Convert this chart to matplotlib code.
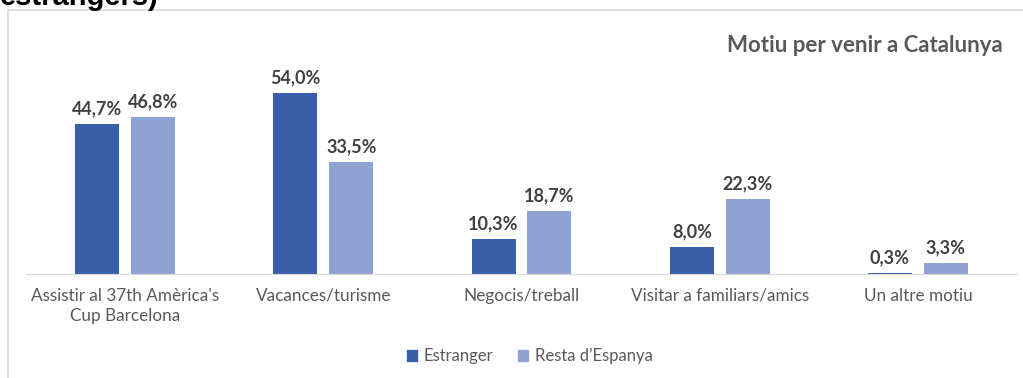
import matplotlib
matplotlib.use("Agg")
import matplotlib.pyplot as plt
import numpy as np
from matplotlib.patches import Rectangle, Patch

categories = ["Assistir al 37th Amèrica's\nCup Barcelona", "Vacances/turisme",
              "Negocis/treball", "Visitar a familiars/amics", "Un altre motiu"]
estranger = [44.7, 54.0, 10.3, 8.0, 0.3]
resta = [46.8, 33.5, 18.7, 22.3, 3.3]
series_names = ["Estranger", "Resta d\u2019Espanya"]

c_est = "#3A5FAA"
c_res = "#8EA2D4"

plt.rcParams['font.family'] = ['Lato', 'DejaVu Sans']

W, H = 1023, 378
fig = plt.figure(figsize=(W / 100, H / 100), dpi=100)

# frame of the chart box (cut at right and bottom)
fig.patches.append(Rectangle((8 / W, -0.1), 1.2, 1 - 10 / H + 0.1, transform=fig.transFigure,
                             fill=False, edgecolor="#D9D9D9", lw=1.2))

# cropped title from above
fig.text(0.0, 1 - 5 / H, "estrangers)", fontsize=21, fontweight="bold",
         family="Liberation Sans", va="baseline", ha="left", color="black")

ax = fig.add_axes([26 / W, 104 / H, 991 / W, 201 / H])
x = np.arange(len(categories))
w = 0.222
gap = 0.06
b1 = ax.bar(x - (w + gap) / 2, estranger, w, color=c_est, label=series_names[0])
b2 = ax.bar(x + (w + gap) / 2, resta, w, color=c_res, label=series_names[1])

for bars, vals in ((b1, estranger), (b2, resta)):
    for b, v in zip(bars, vals):
        ax.annotate(f"{v:.1f}%".replace(".", ","), (b.get_x() + b.get_width() / 2, v),
                    xytext=(0, 5), textcoords="offset points", ha="center", va="bottom",
                    fontsize=13, fontweight="bold", color="#404040")

ax.set_xlim(-0.5, len(categories) - 0.5)
ax.set_ylim(0, 60)
ax.set_yticks([])
ax.set_xticks(x)
ax.set_xticklabels(categories, fontsize=12.3, color="#595959", linespacing=1.3)
ax.tick_params(axis="x", length=0, pad=10)
for s in ["top", "right", "left"]:
    ax.spines[s].set_visible(False)
ax.spines["bottom"].set_color("#D9D9D9")

fig.text(1003 / W, 1 - 46 / H, "Motiu per venir a Catalunya", ha="right", va="center",
         fontsize=16, fontweight="bold", color="#595959")

handles = [Patch(color=c_est), Patch(color=c_res)]
fig.legend(handles, series_names, loc="center", bbox_to_anchor=(530 / W, 1 - 356 / H),
           ncol=2, frameon=False, fontsize=12, labelcolor="#595959",
           handlelength=0.6, handleheight=0.6, handletextpad=0.4, columnspacing=1.5)

fig.savefig("out.png", dpi=100)
